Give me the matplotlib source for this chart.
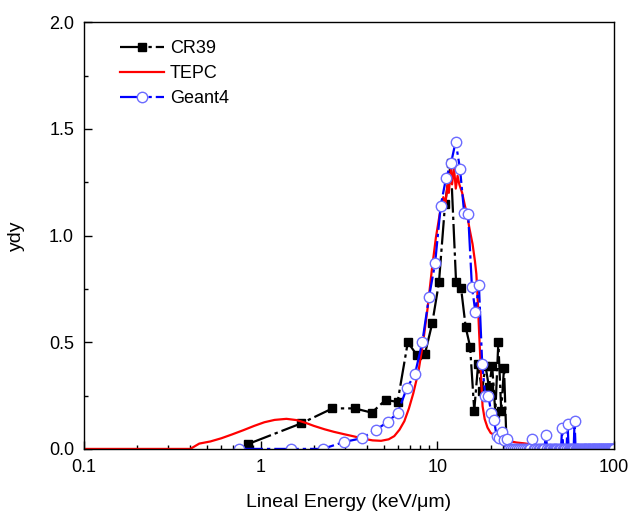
import matplotlib
matplotlib.use("Agg")
import matplotlib.pyplot as plt
from matplotlib.ticker import MultipleLocator, FixedLocator, FixedFormatter, LogLocator, NullFormatter

plt.rcParams['font.family'] = ['Liberation Sans', 'DejaVu Sans']

# CR39 (black squares)
cr39_x = [0.85, 1.7, 2.55, 3.4, 4.25, 5.1, 5.95, 6.8, 7.65, 8.5, 9.35, 10.2, 11.05, 11.9,
          12.75, 13.6, 14.45, 15.3, 16.15, 17.0, 17.85, 18.7, 19.55, 20.4, 21.25, 22.1,
          22.95, 23.8, 24.65]
cr39_y = [0.023, 0.12, 0.19, 0.19, 0.17, 0.23, 0.22, 0.50, 0.44, 0.445, 0.59, 0.78, 1.15, 1.34,
          0.78, 0.755, 0.57, 0.48, 0.18, 0.40, 0.27, 0.39, 0.29, 0.39, 0.17, 0.50,
          0.18, 0.38, 0.0]

# TEPC (red line)
tepc_x = [0.1, 0.40, 0.45, 0.52, 0.60, 0.69, 0.80, 0.92, 1.05, 1.2, 1.4, 1.6, 1.8, 2.0,
          2.3, 2.6, 3.0, 3.4, 3.8, 4.3, 4.8, 5.3, 5.7, 6.1, 6.5, 6.9, 7.3, 7.8, 8.3, 8.8,
          9.3, 9.8, 10.3, 10.8, 11.1, 11.4, 11.6, 11.9, 12.1, 12.4, 12.7, 13.0, 13.3, 13.8,
          14.3, 14.7, 15.2, 15.8, 16.3, 16.6, 16.9, 17.2, 17.4, 17.7, 18.0, 18.5, 19.2,
          20.0, 21.5, 23.0, 25.0, 28.0, 31.0, 34.6]
tepc_y = [0.0, 0.0, 0.025, 0.035, 0.05, 0.068, 0.088, 0.108, 0.125, 0.136, 0.141, 0.135,
          0.122, 0.108, 0.092, 0.080, 0.068, 0.058, 0.048, 0.040, 0.038, 0.045, 0.06, 0.09,
          0.13, 0.19, 0.26, 0.36, 0.50, 0.66, 0.84, 0.99, 1.10, 1.18, 1.15, 1.24, 1.20,
          1.31, 1.24, 1.32, 1.22, 1.28, 1.24, 1.20, 1.14, 1.10, 1.03, 0.96, 0.88, 0.82,
          0.70, 0.55, 0.46, 0.32, 0.20, 0.14, 0.10, 0.075, 0.06, 0.045, 0.038, 0.03,
          0.026, 0.02]

# Geant4 (blue open circles)
geant_x = [0.75, 1.49, 2.24, 2.98, 3.73, 4.48, 5.22, 5.97, 6.71, 7.46, 8.21, 8.95, 9.70,
           10.44, 11.19, 11.94, 12.68, 13.43, 14.17, 14.92, 15.67, 16.41, 17.16, 17.91,
           18.65, 19.40, 20.14, 20.89, 21.63, 22.38, 23.13, 23.87, 24.62]
geant_y = [0.0, 0.0, 0.0, 0.033, 0.05, 0.09, 0.125, 0.17, 0.285, 0.35, 0.50, 0.71, 0.87,
           1.14, 1.27, 1.34, 1.44, 1.31, 1.105, 1.10, 0.76, 0.64, 0.77, 0.40,
           0.25, 0.25, 0.17, 0.135, 0.06, 0.05, 0.08, 0.04, 0.047]
geant_tail_x = [25.36, 26.11, 26.86, 27.60, 28.35, 29.09, 29.84, 30.59, 31.33, 32.08, 32.82,
                33.57, 34.32, 35.06, 35.81, 36.55, 37.30, 38.05, 38.79, 39.54, 40.28, 41.03,
                41.78, 42.52, 43.27, 44.01, 44.76, 45.51, 46.25, 47.00, 47.74, 48.49, 49.24,
                49.98, 50.73, 51.47, 52.22, 52.97, 53.71, 54.46, 55.20, 55.95, 56.70, 57.44,
                58.19, 58.93, 59.68, 60.43, 61.17, 61.92, 62.66, 63.41, 64.16, 64.90, 65.65,
                66.39, 67.14, 67.89, 68.63, 69.38, 70.12, 70.87, 71.62, 72.36, 73.11, 73.85,
                74.60, 75.35, 76.09, 76.84, 77.58, 78.33, 79.08, 79.82, 80.57, 81.31, 82.06,
                82.81, 83.55, 84.30, 85.04, 85.79, 86.54, 87.28, 88.03, 88.77, 89.52, 90.27,
                91.01, 91.76, 92.50, 93.25, 94.00, 94.74, 95.49, 96.23, 96.98, 97.73, 98.47,
                99.22]
geant_tail_peaks = {34.32: 0.047, 41.03: 0.066, 50.73: 0.10, 54.46: 0.117, 59.68: 0.13}

xticks = [0.1, 1, 10, 100]
xtick_labels = ['0.1', '1', '10', '100']
yticks = [0.0, 0.5, 1.0, 1.5, 2.0]
ytick_labels = ['0.0', '0.5', '1.0', '1.5', '2.0']

gx = geant_x + geant_tail_x
gy = geant_y + [geant_tail_peaks.get(v, 0.0) for v in geant_tail_x]

fig = plt.figure(figsize=(6.3, 5.16), dpi=100)
ax = fig.add_axes([0.133, 0.130, 0.842, 0.827])

dashdot = (0, (11, 1.8, 1.5, 1.8))
ax.plot(cr39_x, cr39_y, color='black', lw=1.6, linestyle=dashdot, marker='s',
        markersize=5.5, markerfacecolor='black', markeredgecolor='black', label='CR39')
ax.plot(tepc_x, tepc_y, color='#ff0000', lw=1.6, label='TEPC')
ax.plot(gx, gy, color='#0000ff', lw=1.6, linestyle=dashdot, marker='o', markersize=7.5,
        markerfacecolor='white', markeredgecolor='#6b6bff', markeredgewidth=1.0,
        label='Geant4')

ax.set_xscale('log')
ax.set_xlim(0.1, 100)
ax.set_ylim(0, 2.0)
ax.xaxis.set_major_locator(FixedLocator(xticks))
ax.xaxis.set_major_formatter(FixedFormatter(xtick_labels))
ax.xaxis.set_minor_locator(LogLocator(base=10, subs=range(2, 10)))
ax.xaxis.set_minor_formatter(NullFormatter())
ax.yaxis.set_major_locator(FixedLocator(yticks))
ax.yaxis.set_major_formatter(FixedFormatter(ytick_labels))
ax.yaxis.set_minor_locator(MultipleLocator(0.25))

ax.tick_params(which='major', direction='in', length=6, width=1, labelsize=13, pad=7)
ax.tick_params(which='minor', direction='in', length=3, width=1)
for s in ax.spines.values():
    s.set_linewidth(1.0)

ax.set_xlabel('Lineal Energy (keV/\u03bcm)', fontsize=14, labelpad=13)
ax.set_ylabel('ydy', fontsize=14, labelpad=17)

ax.legend(loc='upper left', bbox_to_anchor=(0.055, 0.975), frameon=False, fontsize=13,
          handlelength=2.4, handletextpad=0.35, labelspacing=0.45, numpoints=1,
          borderaxespad=0)

fig.savefig('out.png', dpi=100)
